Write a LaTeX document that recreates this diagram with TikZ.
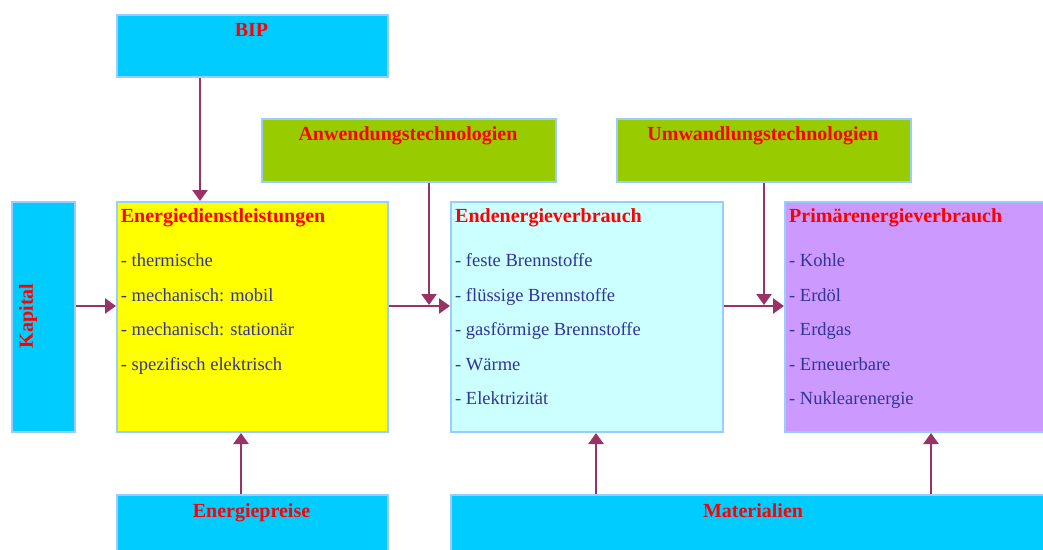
\documentclass[tikz,border=0pt]{standalone}
\usepackage{fontspec}
\setmainfont{Liberation Serif}
\usetikzlibrary{arrows.meta}
\definecolor{cyanbox}{HTML}{00CCFF}
\definecolor{greenbox}{HTML}{99CC00}
\definecolor{yellowbox}{HTML}{FFFF00}
\definecolor{lightcyanbox}{HTML}{CCFFFF}
\definecolor{violetbox}{HTML}{CC99FF}
\definecolor{edgeblue}{HTML}{99CCFF}
\definecolor{conncol}{HTML}{993366}
\definecolor{bodyblue}{HTML}{333399}
\begin{document}
\begin{tikzpicture}[x=1pt,y=-1pt,
  box/.style={draw=edgeblue,line width=2pt,rectangle,inner sep=0pt,anchor=north west},
  label/.style={font=\fontsize{20}{24}\selectfont\bfseries,text=red,inner sep=0pt},
  item/.style={font=\fontsize{18.5}{22}\selectfont,text=bodyblue,inner sep=0pt,anchor=base west},
  conn/.style={draw=conncol,line width=2.5pt,-{Triangle[length=11pt,width=15pt]}}]
\useasboundingbox (0,0) rectangle (1043,549);
\clip (0,0) rectangle (1043,549);
\fill[white] (0,0) rectangle (1043,549);
% boxes
\node[box,fill=cyanbox,minimum width=271pt,minimum height=62pt] (bip) at (116,14) {};
\node[box,fill=greenbox,minimum width=294pt,minimum height=63pt] (anw) at (261,118) {};
\node[box,fill=greenbox,minimum width=294pt,minimum height=63pt] (umw) at (616,118) {};
\node[box,fill=cyanbox,minimum width=63pt,minimum height=230pt] (kap) at (11,201) {};
\node[box,fill=yellowbox,minimum width=271pt,minimum height=230pt] (ed) at (116,201) {};
\node[box,fill=lightcyanbox,minimum width=272pt,minimum height=230pt] (ee) at (450,201) {};
\node[box,fill=violetbox,minimum width=280pt,minimum height=230pt] (pe) at (784,201) {};
\node[box,fill=cyanbox,minimum width=271pt,minimum height=80pt] (ep) at (116,494) {};
\node[box,fill=cyanbox,minimum width=620pt,minimum height=80pt] (mat) at (450,494) {};
% box labels
\node[label,anchor=base] (bipT) at (251.5,36) {BIP};
\node[label,anchor=base] (anwT) at (408,140) {Anwendungstechnologien};
\node[label,anchor=base] (umwT) at (763,140) {Umwandlungstechnologien};
\node[label,anchor=base] (epT) at (251.5,517) {Energiepreise};
\node[label,anchor=base] (matT) at (753,517) {Materialien};
\node[label,rotate=90] (kapT) at (28,316) {Kapital};
\node[label,anchor=base west] (edT) at (120.7,222.7) {Energiedienstleistungen};
\node[label,anchor=base west] (eeT) at (455,222.7) {Endenergieverbrauch};
\node[label,anchor=base west] (peT) at (789,222.7) {Primärenergieverbrauch};
% items
\foreach \t [count=\i] in {thermische,mechanisch: mobil,mechanisch: stationär,spezifisch elektrisch}
  \node[item] (ed\i) at (120.7,{266.5+34.6*(\i-1)}) {- \t};
\foreach \t [count=\i] in {feste Brennstoffe,flüssige Brennstoffe,gasförmige Brennstoffe,Wärme,Elektrizität}
  \node[item] (ee\i) at (455,{266.5+34.6*(\i-1)}) {- \t};
\foreach \t [count=\i] in {Kohle,Erdöl,Erdgas,Erneuerbare,Nuklearenergie}
  \node[item] (pe\i) at (789,{266.5+34.6*(\i-1)}) {- \t};
% helper coordinates
\coordinate (row) at (0,306);
\coordinate (xbip) at (200,0);
\coordinate (xanw) at (429,0);
\coordinate (xumw) at (764,0);
\coordinate (xep) at (241,0);
\coordinate (xm1) at (596,0);
\coordinate (xm2) at (931,0);
\coordinate (anwEnd) at (429,305);
\coordinate (umwEnd) at (764,305);
% connectors
\draw[conn] (bip.south -| xbip) -- (ed.north -| xbip);
\draw[conn] (kap.east |- row) -- (ed.west |- row);
\draw[conn] (ed.east |- row) -- (ee.west |- row);
\draw[conn] (ee.east |- row) -- (pe.west |- row);
\draw[conn] (anw.south -| xanw) -- (anwEnd);
\draw[conn] (umw.south -| xumw) -- (umwEnd);
\draw[conn] (ep.north -| xep) -- (ed.south -| xep);
\draw[conn] (mat.north -| xm1) -- (ee.south -| xm1);
\draw[conn] (mat.north -| xm2) -- (pe.south -| xm2);
\end{tikzpicture}
\end{document}
